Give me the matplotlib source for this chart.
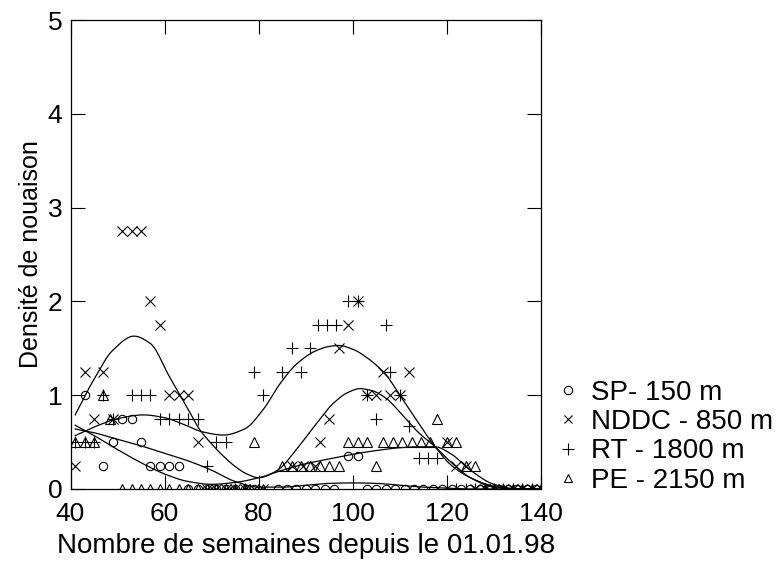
import numpy as np
import matplotlib
matplotlib.use("Agg")
import matplotlib.pyplot as plt
from matplotlib.lines import Line2D

plt.rcParams['font.family'] = ['Liberation Sans', 'DejaVu Sans']

# weekly fruit-set density per station (weeks since 01.01.98)
sp_w = [43, 47, 49, 51, 53, 55, 57, 59, 61, 63, 65, 67, 69, 71, 73, 75, 77, 79,
        84, 86, 88, 90, 92, 94, 96, 99, 101, 103, 105, 107, 109, 111, 113, 115,
        117, 119, 121, 123, 125, 127, 129, 131, 133, 135, 137, 139]
sp_v = [1.0, 0.25, 0.5, 0.75, 0.75, 0.5, 0.25, 0.25, 0.25, 0.25, 0, 0, 0, 0, 0, 0, 0, 0,
        0, 0, 0, 0, 0, 0, 0, 0.35, 0.35, 0, 0, 0, 0, 0, 0, 0,
        0, 0, 0, 0, 0, 0, 0, 0, 0, 0, 0, 0]

nd_w = [41, 43, 45, 47, 49, 51, 53, 55, 57, 59, 61, 63, 65, 67, 69, 71, 73, 75, 77, 79,
        81, 87, 89.5, 92, 93, 95, 97, 99, 101, 103, 105, 106.5, 108, 110, 112,
        120, 122, 124, 126, 128, 130, 132, 134, 136, 138, 140]
nd_v = [0.25, 1.25, 0.75, 1.25, 0.75, 2.75, 2.75, 2.75, 2.0, 1.75, 1.0, 1.0, 1.0, 0.5, 0, 0, 0, 0, 0, 0,
        0, 0.25, 0.25, 0.25, 0.5, 0.75, 1.5, 1.75, 2.0, 1.0, 1.0, 1.25, 1.0, 1.0, 1.25,
        0.5, 0.25, 0.25, 0, 0, 0, 0, 0, 0, 0, 0]

rt_w = [41, 43, 45, 47, 49, 53, 55, 57, 59, 61, 63, 65, 67, 69, 71, 73, 75, 77,
        79, 81, 85, 87, 89, 91, 92.5, 94.5, 96.5, 99, 101, 103, 105, 107, 108, 110,
        112, 114, 116, 118, 120, 122, 124, 126, 128, 130, 132, 134, 136, 138, 140]
rt_v = [0.5, 0.5, 0.5, 1.0, 0.75, 1.0, 1.0, 1.0, 0.75, 0.75, 0.75, 0.75, 0.75, 0.25, 0.5, 0.5, 0, 0,
        1.25, 1.0, 1.25, 1.5, 1.25, 1.5, 1.75, 1.75, 1.75, 2.0, 2.0, 1.0, 0.75, 1.75, 1.25, 1.0,
        0.67, 0.33, 0.33, 0.33, 0, 0, 0, 0, 0, 0, 0, 0, 0, 0, 0]

pe_w = [41, 43, 45, 47, 48.5, 51, 53, 55, 57, 59, 61, 63, 65, 67, 69, 71, 73, 75, 77,
        79, 81, 85, 87, 89, 91, 93, 95, 97, 99, 101, 103, 105, 106.5, 108.5, 110.5,
        112.5, 114.5, 116.5, 118, 120, 122, 124, 126, 128, 130, 132, 134, 136, 138, 140]
pe_v = [0.5, 0.5, 0.5, 1.0, 0.75, 0, 0, 0, 0, 0, 0, 0, 0, 0, 0, 0, 0, 0, 0,
        0.5, 0, 0.25, 0.25, 0.25, 0.25, 0.25, 0.25, 0.25, 0.5, 0.5, 0.5, 0.25, 0.5, 0.5, 0.5,
        0.5, 0.5, 0.5, 0.75, 0.5, 0.5, 0.25, 0.25, 0, 0, 0, 0, 0, 0, 0]

# smoothed trend of each station, read at a few weeks
sp_cx = [41, 45, 50, 55, 60, 65, 70, 75, 80, 85, 90, 95, 100, 105, 110, 115, 120, 125, 130, 140]
sp_cy = [0.64, 0.6, 0.53, 0.46, 0.38, 0.3, 0.2, 0.08, 0.02, 0.02, 0.04, 0.06, 0.065, 0.06,
         0.04, 0.02, 0.01, 0.0, 0.0, 0.0]
nd_cx = [41, 45, 49, 53.5, 57, 61, 65, 67.5, 70, 72.5, 75, 77.5, 80, 84, 88, 92, 96, 99,
         101.5, 104, 107, 110, 114, 117.5, 121, 125, 130, 135, 140]
nd_cy = [0.79, 1.17, 1.48, 1.63, 1.55, 1.2, 0.85, 0.63, 0.48, 0.35, 0.24, 0.16, 0.12, 0.2,
         0.42, 0.68, 0.92, 1.03, 1.07, 1.05, 0.97, 0.82, 0.6, 0.45, 0.28, 0.12, 0.02, 0.0, 0.0]
rt_cx = [41, 45, 50, 55.5, 60, 64, 68, 72.5, 77, 81, 84.5, 88, 92, 95, 97, 100, 103, 107,
         110, 114, 117.5, 121, 125, 130, 135, 140]
rt_cy = [0.57, 0.66, 0.75, 0.79, 0.76, 0.69, 0.61, 0.575, 0.64, 0.85, 1.12, 1.33, 1.47, 1.52,
         1.53, 1.49, 1.4, 1.22, 1.0, 0.7, 0.45, 0.25, 0.12, 0.03, 0.0, 0.0]
pe_cx = [41, 45, 50, 55, 60, 65, 70, 75, 80, 85, 90, 95, 100, 105, 110, 114, 117.5, 121,
         125, 130, 135, 140]
pe_cy = [0.68, 0.57, 0.42, 0.28, 0.16, 0.08, 0.05, 0.07, 0.12, 0.2, 0.27, 0.32, 0.37, 0.41,
         0.44, 0.45, 0.45, 0.37, 0.2, 0.05, 0.0, 0.0]

labels = ["SP- 150 m", "NDDC - 850 m", "RT - 1800 m", "PE - 2150 m"]


def pchip(xk, yk, xs):
    # monotone cubic through the read points (Fritsch-Carlson)
    xk = np.asarray(xk, float)
    yk = np.asarray(yk, float)
    h = np.diff(xk)
    d = np.diff(yk) / h
    m = np.zeros_like(yk)
    for i in range(1, len(xk) - 1):
        if d[i - 1] * d[i] > 0:
            w1 = 2 * h[i] + h[i - 1]
            w2 = h[i] + 2 * h[i - 1]
            m[i] = (w1 + w2) / (w1 / d[i - 1] + w2 / d[i])
    m[0] = d[0]
    m[-1] = d[-1]
    i = np.clip(np.searchsorted(xk, xs) - 1, 0, len(h) - 1)
    t = (xs - xk[i]) / h[i]
    h00 = 2 * t**3 - 3 * t**2 + 1
    h10 = t**3 - 2 * t**2 + t
    h01 = -2 * t**3 + 3 * t**2
    h11 = t**3 - t**2
    return h00 * yk[i] + h10 * h[i] * m[i] + h01 * yk[i + 1] + h11 * h[i] * m[i + 1]


fig = plt.figure(figsize=(7.77, 5.66), dpi=100)
ax = fig.add_axes([70.5 / 777, 77 / 566, 470.5 / 777, 469 / 566])

mk = dict(color='k', linestyle='none', markeredgewidth=0.8)
ax.plot(sp_w, sp_v, marker='o', markersize=6, markerfacecolor='none', **mk)
ax.plot(nd_w, nd_v, marker='x', markersize=6.5, **mk)
ax.plot(rt_w, rt_v, marker='+', markersize=8, **mk)
ax.plot(pe_w, pe_v, marker='^', markersize=7.5, markerfacecolor='none', **mk)

# trend lines
for cx, cy in [(sp_cx, sp_cy), (nd_cx, nd_cy), (rt_cx, rt_cy), (pe_cx, pe_cy)]:
    xs = np.linspace(cx[0], cx[-1], 400)
    ax.plot(xs, pchip(cx, cy, xs), color='k', linewidth=0.9)

ax.set_xlim(40, 140)
ax.set_ylim(0, 5)
ax.set_xticks([40, 60, 80, 100, 120, 140])
ax.set_yticks([0, 1, 2, 3, 4, 5])
ax.tick_params(direction='in', length=10, width=0.8, top=True, right=True,
               labelsize=19)
ax.tick_params(axis='x', pad=9.5)
ax.tick_params(axis='y', pad=6)
for s in ax.spines.values():
    s.set_linewidth(0.9)
ax.set_xlabel("Nombre de semaines depuis le 01.01.98", fontsize=20, labelpad=5)
ax.set_ylabel("Densité de nouaison", fontsize=18, labelpad=3)

handles = [
    Line2D([], [], marker='o', markerfacecolor='none', **mk),
    Line2D([], [], marker='x', **mk),
    Line2D([], [], marker='+', markersize=9, **mk),
    Line2D([], [], marker='^', markerfacecolor='none', **mk),
]
fig.legend(handles, labels, loc='center left',
           bbox_to_anchor=(543.5 / 777, 1 - 436.7 / 566),
           frameon=False, fontsize=20, handlelength=0.95, handletextpad=0.36,
           labelspacing=0.12, borderaxespad=0.0, borderpad=0.4)

fig.savefig("out.png", dpi=100)
